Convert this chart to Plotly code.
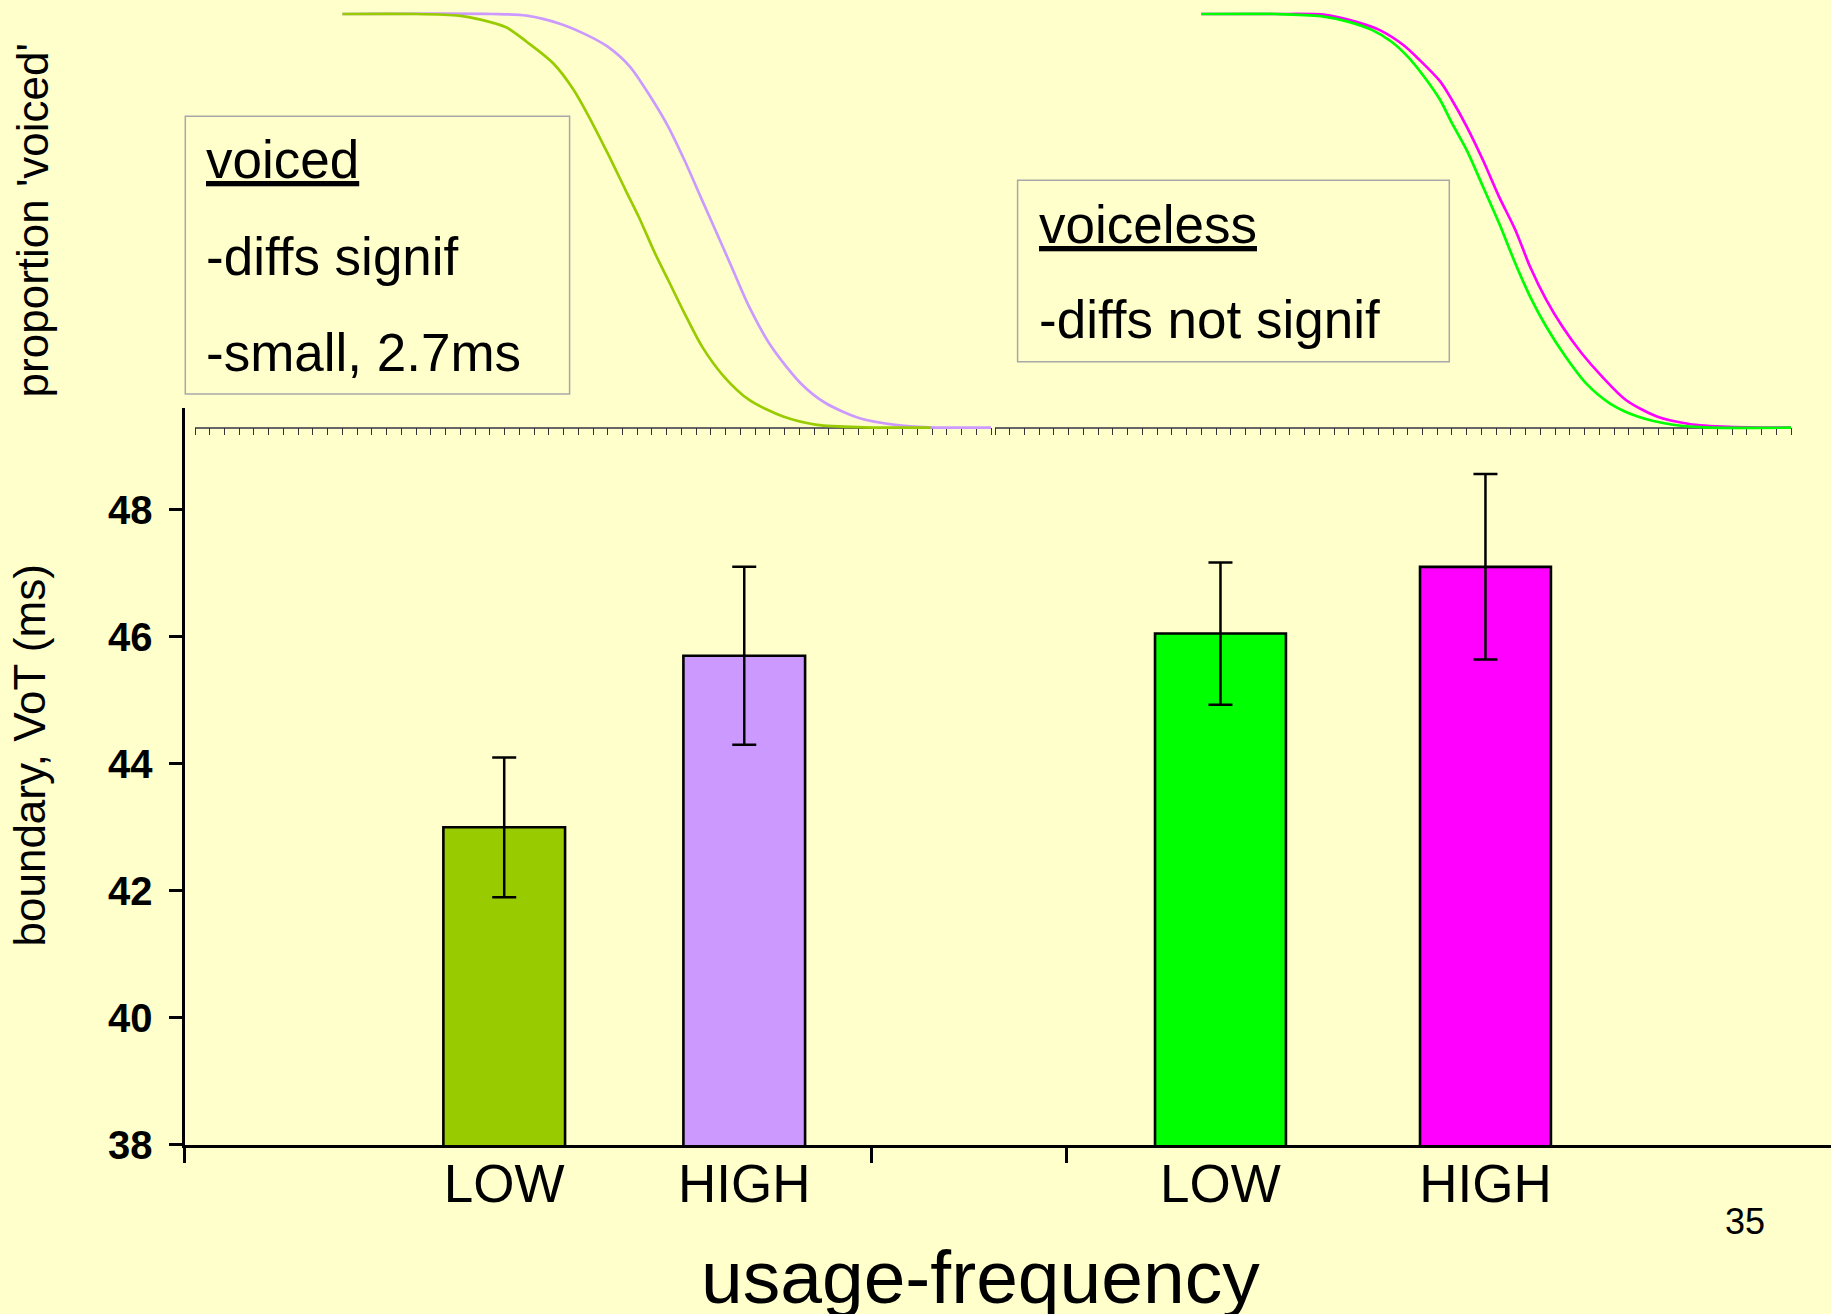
import plotly.graph_objects as go

W, H = 1831, 1314

# ---------------- data ----------------
freq_labels = ["LOW", "HIGH"]

voiced_boundary = [43.0, 45.7]        # boundary, VoT (ms)
voiced_err = [1.1, 1.4]
voiceless_boundary = [46.05, 47.1]
voiceless_err = [1.12, 1.46]

y_ticks = [38, 40, 42, 44, 46, 48]

# identification curves: continuum step vs proportion 'voiced'
voiced_low_step = [10.0, 15.0, 17.9, 19.3, 21.1, 22.5, 24.3, 25.7, 26.6, 28.0, 29.2, 30.1,
                   31.2, 32.1, 33.2, 34.4, 35.9, 37.6, 39.9, 42.2, 45.4, 49.9]
voiced_low_prop = [1.0, 1.0, 0.996, 0.987, 0.968, 0.933, 0.881, 0.816, 0.76, 0.663, 0.575, 0.51,
                   0.422, 0.357, 0.277, 0.196, 0.123, 0.067, 0.027, 0.007, 0.001, 0.0]

voiced_high_step = [10.0, 20.2, 22.5, 24.8, 26.6, 28.0, 29.5, 30.9, 32.1, 33.2, 34.4, 35.3,
                    36.4, 37.6, 39.1, 41.1, 42.8, 45.1, 47.5, 49.8, 54.0]
voiced_high_prop = [1.0, 1.0, 0.996, 0.976, 0.949, 0.921, 0.873, 0.80, 0.728, 0.647, 0.55, 0.478,
                    0.389, 0.292, 0.196, 0.107, 0.059, 0.023, 0.007, 0.001, 0.0]

voiceless_low_step = [14.0, 19.1, 22.1, 24.0, 25.6, 26.9, 28.0, 29.1, 30.2, 31.0, 32.0, 33.1,
                      34.2, 35.3, 36.3, 37.4, 38.7, 40.1, 41.7, 43.6, 46.0, 48.1, 54.0]
voiceless_low_prop = [1.0, 1.0, 0.995, 0.981, 0.961, 0.933, 0.897, 0.849, 0.792, 0.736, 0.671, 0.583,
                      0.494, 0.397, 0.317, 0.244, 0.172, 0.107, 0.059, 0.027, 0.007, 0.001, 0.0]

voiceless_high_step = [14.0, 19.1, 22.4, 24.5, 26.1, 27.7, 28.8, 30.2, 31.0, 32.0, 33.1, 34.2,
                       35.3, 36.3, 37.4, 38.5, 39.8, 41.2, 42.8, 44.9, 47.1, 49.8, 54.0]
voiceless_high_prop = [1.0, 1.0, 0.998, 0.981, 0.961, 0.925, 0.889, 0.837, 0.792, 0.728, 0.647, 0.558,
                       0.478, 0.389, 0.309, 0.244, 0.180, 0.123, 0.067, 0.027, 0.009, 0.002, 0.0]

continuum_max = 54

# ---------------- style ----------------
BG = "#FFFFCC"
C_V_LOW, C_V_HIGH = "#99CC00", "#CC99FF"
C_VL_LOW, C_VL_HIGH = "#00FF00", "#FF00FF"
FONT = "Arial, Liberation Sans, sans-serif"


def fx(px):
    return px / W


def fy(py):
    return 1 - py / H


fig = go.Figure()

err_style = dict(type="data", color="black", thickness=2.5, width=12)

fig.add_trace(go.Bar(
    x=freq_labels, y=voiced_boundary, xaxis="x", yaxis="y", width=0.507,
    marker=dict(color=[C_V_LOW, C_V_HIGH], line=dict(color="black", width=2.6)),
    error_y=dict(array=voiced_err, **err_style), hoverinfo="x+y"))
fig.add_trace(go.Bar(
    x=freq_labels, y=voiceless_boundary, xaxis="x2", yaxis="y", width=0.494,
    marker=dict(color=[C_VL_LOW, C_VL_HIGH], line=dict(color="black", width=2.6)),
    error_y=dict(array=voiceless_err, **err_style), hoverinfo="x+y"))
# empty trace so the full-width baseline axis (x3) gets its own subplot and ticks
fig.add_trace(go.Scatter(x=[], y=[], xaxis="x3", yaxis="y", mode="lines",
                         hoverinfo="skip", showlegend=False))

curve_line = dict(width=2.7, shape="spline", smoothing=0.8)
fig.add_trace(go.Scatter(x=voiced_high_step, y=voiced_high_prop, mode="lines",
                         line=dict(color=C_V_HIGH, **curve_line), xaxis="x4", yaxis="y2"))
fig.add_trace(go.Scatter(x=voiced_low_step, y=voiced_low_prop, mode="lines",
                         line=dict(color=C_V_LOW, **curve_line), xaxis="x4", yaxis="y2"))
fig.add_trace(go.Scatter(x=voiceless_high_step, y=voiceless_high_prop, mode="lines",
                         line=dict(color=C_VL_HIGH, **curve_line), xaxis="x5", yaxis="y2"))
fig.add_trace(go.Scatter(x=voiceless_low_step, y=voiceless_low_prop, mode="lines",
                         line=dict(color=C_VL_LOW, **curve_line), xaxis="x5", yaxis="y2"))

# bar chart axes
cat_axis = dict(type="category", showline=False, ticks="", showgrid=False, zeroline=False,
                tickfont=dict(family=FONT, size=53, color="black"), anchor="y",
                ticklabelstandoff=3, fixedrange=True, automargin=False)
frame_left, frame_right = 184.5, 1831
boundaries = [184.5, 871.7, 1066]
frame_ticks = [(b - frame_left) / (frame_right - frame_left) for b in boundaries]

curve_axis = dict(range=[0, continuum_max], tick0=0, dtick=1, ticks="outside", ticklen=7,
                  tickwidth=1, tickcolor="#333333", showline=True, linecolor="#666666",
                  linewidth=1.5, showticklabels=False, showgrid=False, zeroline=False,
                  anchor="free", position=fy(427.7), layer="below traces",
                  fixedrange=True, automargin=False)

fig.update_layout(
    width=W, height=H, autosize=False,
    margin=dict(l=0, r=0, t=0, b=0),
    paper_bgcolor=BG, plot_bgcolor="rgba(0,0,0,0)",
    showlegend=False, template="none",
    font=dict(family=FONT, color="black"),
    xaxis=dict(domain=[fx(184.5), fx(871.7)], range=[-1.332, 1.531], **cat_axis),
    xaxis2=dict(domain=[fx(1066), fx(1831)], range=[-0.583, 2.304], **cat_axis),
    xaxis3=dict(domain=[fx(frame_left), fx(frame_right)], range=[0, 1], anchor="y",
                showline=True, linewidth=3, linecolor="black", ticks="outside",
                ticklen=15, tickwidth=2.5, tickcolor="black", tickmode="array",
                tickvals=frame_ticks, showticklabels=False, showgrid=False,
                zeroline=False, fixedrange=True, automargin=False),
    yaxis=dict(domain=[fy(1144.9), fy(407.7)], range=[38, 49.605], anchor="x",
               showline=True, linewidth=3, linecolor="black", ticks="outside",
               ticklen=13, tickwidth=3, tickcolor="black", tickvals=y_ticks,
               tickfont=dict(family=FONT, size=40, color="black", weight="bold"),
               ticklabelstandoff=8, showgrid=False, zeroline=False, fixedrange=True,
               automargin=False),
    xaxis4=dict(domain=[fx(195), fx(991)], **curve_axis),
    xaxis5=dict(domain=[fx(995), fx(1791)], **curve_axis),
    yaxis2=dict(domain=[fy(440.1), fy(1.6)], range=[-0.03, 1.03], anchor="x4",
                showline=False, ticks="", showticklabels=False, showgrid=False,
                zeroline=False, fixedrange=True, automargin=False),
)

# axis titles
fig.add_annotation(text="boundary, VoT (ms)", xref="paper", yref="paper",
                   x=fx(29), y=fy(755.5), textangle=-90, xanchor="center", yanchor="middle",
                   showarrow=False, font=dict(family=FONT, size=44, color="black"), borderpad=0)
fig.add_annotation(text="proportion 'voiced'", xref="paper", yref="paper",
                   x=fx(32.4), y=fy(220), textangle=-90, xanchor="center", yanchor="middle",
                   showarrow=False, font=dict(family=FONT, size=44, color="black"), borderpad=0)
fig.add_annotation(text="usage-frequency", xref="paper", yref="paper", x=fx(980.5), y=fy(1276.8),
                   xanchor="center", yanchor="middle", showarrow=False,
                   font=dict(family=FONT, size=75, color="black"), borderpad=0)

# text boxes
box_line = dict(color="#A8A8A8", width=1.5)
fig.add_shape(type="rect", xref="paper", yref="paper", x0=fx(185.3), x1=fx(569.6),
              y0=fy(394), y1=fy(116.3), line=box_line, fillcolor="rgba(0,0,0,0)")
fig.add_shape(type="rect", xref="paper", yref="paper", x0=fx(1017.6), x1=fx(1449.3),
              y0=fy(361.7), y1=fy(180.3), line=box_line, fillcolor="rgba(0,0,0,0)")

TXT = dict(family=FONT, size=53, color="black")
for text, x, y in [("<u>voiced</u>", 205.4, 159.9),
                   ("-diffs signif", 205.4, 256.6),
                   ("-small, 2.7ms", 205.4, 352.3),
                   ("<u>voiceless</u>", 1037.8, 224.3),
                   ("-diffs not signif", 1037.8, 319.9)]:
    fig.add_annotation(text=text, xref="paper", yref="paper", x=fx(x), y=fy(y),
                       xanchor="left", yanchor="middle", showarrow=False, font=TXT,
                       borderpad=0)

fig.add_annotation(text="35", xref="paper", yref="paper", x=fx(1745), y=fy(1221.8),
                   xanchor="center", yanchor="middle", showarrow=False,
                   font=dict(family=FONT, size=36, color="black"), borderpad=0)

fig.write_html("out.html", config={"displayModeBar": False},
               post_script="document.body.style.margin='0';")
